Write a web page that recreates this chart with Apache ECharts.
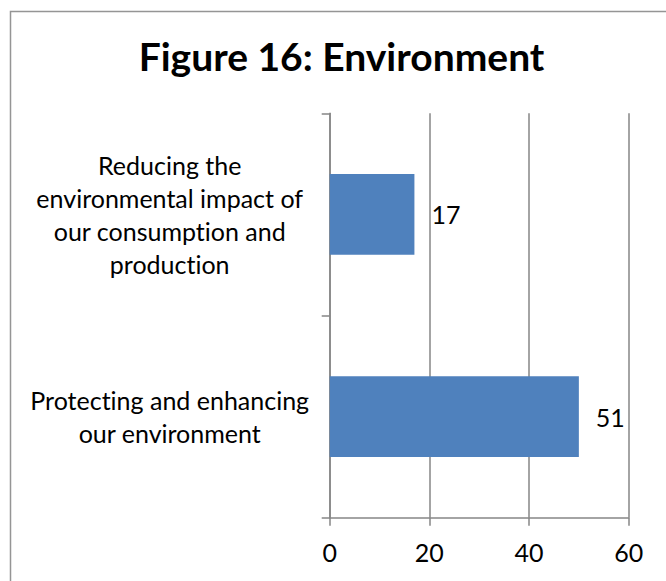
<!DOCTYPE html>
<html>
<head>
<meta charset="utf-8">
<script src="https://cdn.jsdelivr.net/npm/echarts@6/dist/echarts.min.js"></script>
<style>
html,body{margin:0;padding:0;background:#fff;}
#chart{width:666px;height:581px;}
#chart text{font-variant-ligatures:none;font-feature-settings:"liga" 0,"clig" 0;}
</style>
</head>
<body>
<div id="chart"></div>
<script>
const titleText = "Figure 16: Environment";
const categories = [
  "Reducing the\nenvironmental impact of\nour consumption and\nproduction",
  "Protecting and enhancing\nour environment"
];
const barValues = [17, 50];
const valueLabels = ["17", "51"];
const xTicks = [0, 20, 40, 60];

const FONT = "Lato";
const chart = echarts.init(document.getElementById('chart'), null, {renderer: 'svg'});
chart.setOption({
  animation: false,
  backgroundColor: '#ffffff',
  graphic: [
    {type: 'rect', shape: {x: 10.5, y: 11.5, width: 700, height: 700},
     style: {fill: 'none', stroke: '#959595', lineWidth: 1.5}, z: -1},
    {type: 'text', x: 341.5, y: 56, style: {text: titleText, font: 'bold 39px ' + FONT,
     fill: '#000', textAlign: 'center', textVerticalAlign: 'middle'}}
  ],
  grid: {left: 329.7, right: 37.3, top: 113.3, bottom: 63.3, containLabel: false},
  xAxis: {
    type: 'value', min: xTicks[0], max: xTicks[xTicks.length - 1], interval: 20,
    axisLine: {show: true, lineStyle: {color: '#868686', width: 1.5}},
    axisTick: {show: true, inside: false, length: 8, lineStyle: {color: '#868686', width: 1.5}},
    splitLine: {show: true, lineStyle: {color: '#868686', width: 1.5}},
    axisLabel: {color: '#000', fontFamily: FONT, fontSize: 25, margin: 22}
  },
  yAxis: {
    type: 'category', data: categories, inverse: true,
    axisLine: {show: true, lineStyle: {color: '#868686', width: 1.5}},
    axisTick: {show: true, inside: false, length: 8, lineStyle: {color: '#868686', width: 1.5}},
    axisLabel: {color: '#000', fontFamily: FONT, fontSize: 25, lineHeight: 33,
      align: 'center', margin: 160}
  },
  series: [{
    type: 'bar', data: barValues, barWidth: '40%',
    itemStyle: {color: '#4F81BD'},
    label: {show: true, position: 'right', distance: 17, color: '#000',
      fontFamily: FONT, fontSize: 25,
      formatter: p => valueLabels[p.dataIndex]}
  }]
});
</script>
</body>
</html>
